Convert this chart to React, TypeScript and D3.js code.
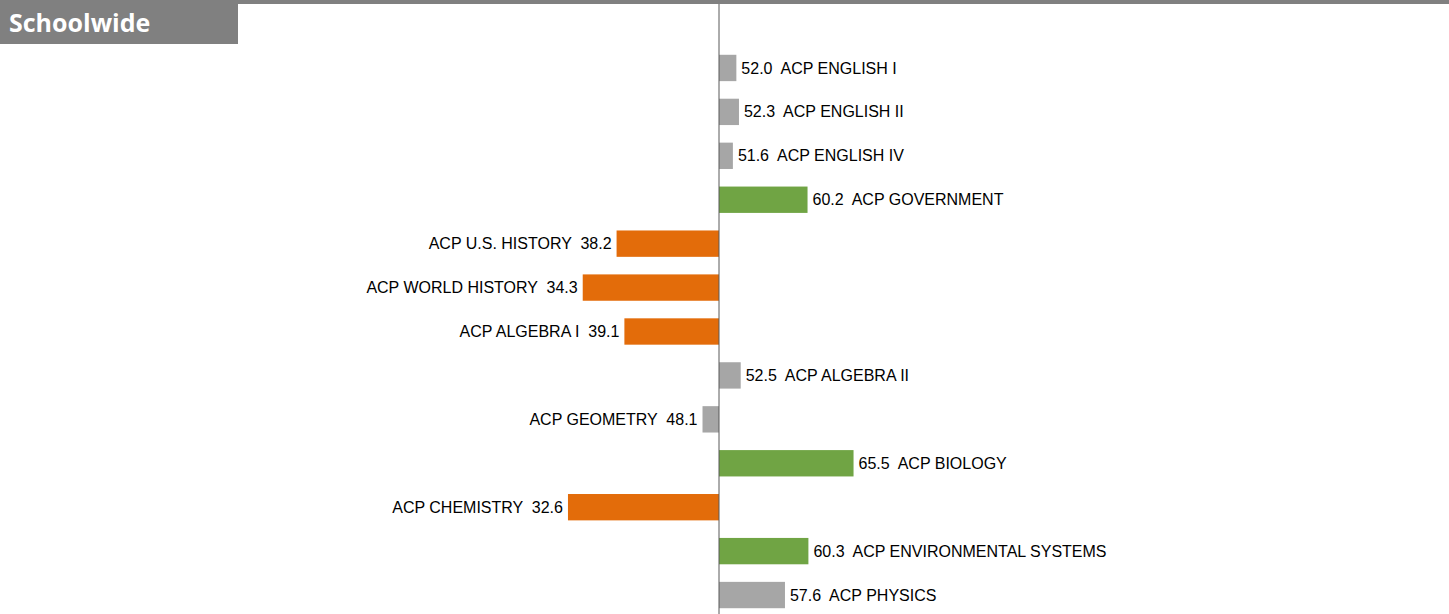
import React, { useEffect, useRef } from 'react';
import * as d3 from 'd3';

const courses = [
  'ACP ENGLISH I', 'ACP ENGLISH II', 'ACP ENGLISH IV', 'ACP GOVERNMENT',
  'ACP U.S. HISTORY', 'ACP WORLD HISTORY', 'ACP ALGEBRA I', 'ACP ALGEBRA II',
  'ACP GEOMETRY', 'ACP BIOLOGY', 'ACP CHEMISTRY', 'ACP ENVIRONMENTAL SYSTEMS', 'ACP PHYSICS',
];
const scores = [52.0, 52.3, 51.6, 60.2, 38.2, 34.3, 39.1, 52.5, 48.1, 65.5, 32.6, 60.3, 57.6];
const baseline = 50;

const colorFor = (v: number) => (v >= 60 ? '#70a444' : v < 40 ? '#e36c0a' : '#a6a6a6');

const App = () => {
  const svgRef = useRef<SVGSVGElement>(null);

  useEffect(() => {
    document.body.style.margin = '0';
    const svg = d3.select(svgRef.current);
    svg.selectAll('*').remove();

    const width = 1449;
    const height = 614;

    const x = d3.scaleLinear().domain([0, 100]).range([285, 1153]);
    const y = d3.scaleBand<string>().domain(courses).range([46, 617]).paddingInner(0.4).paddingOuter(0.2);

    // header strip + title box
    svg.append('rect').attr('x', 0).attr('y', 0).attr('width', width).attr('height', 4).attr('fill', '#808080');
    svg.append('rect').attr('x', 0).attr('y', 0).attr('width', 238).attr('height', 44).attr('fill', '#808080');
    svg.append('text')
      .attr('x', 9).attr('y', 32)
      .attr('fill', '#fff')
      .attr('font-family', '"Open Sans", sans-serif')
      .attr('font-weight', 'bold')
      .attr('font-size', 25)
      .text('Schoolwide');

    const rows = courses.map((c, i) => ({ course: c, value: scores[i] }));

    svg.append('g').selectAll('rect')
      .data(rows)
      .join('rect')
      .attr('x', d => Math.min(x(d.value), x(baseline)))
      .attr('y', d => y(d.course)!)
      .attr('width', d => Math.abs(x(d.value) - x(baseline)))
      .attr('height', y.bandwidth())
      .attr('fill', d => colorFor(d.value));

    svg.append('g').selectAll('text')
      .data(rows)
      .join('text')
      .attr('x', d => (d.value >= baseline ? x(d.value) + 5 : x(d.value) - 5))
      .attr('y', d => y(d.course)! + y.bandwidth() / 2)
      .attr('dy', '0.35em')
      .attr('text-anchor', d => (d.value >= baseline ? 'start' : 'end'))
      .attr('font-family', '"Liberation Sans", Arial, sans-serif')
      .attr('font-size', 16)
      .attr('fill', '#000')
      .style('white-space', 'pre')
      .text(d => (d.value >= baseline
        ? `${d.value.toFixed(1)}  ${d.course}`
        : `${d.course}  ${d.value.toFixed(1)}`));

    svg.append('line')
      .attr('x1', x(baseline)).attr('x2', x(baseline))
      .attr('y1', 4).attr('y2', height)
      .attr('stroke', '#595959').attr('stroke-width', 1);
  }, []);

  return <svg ref={svgRef} width={1449} height={614} style={{ display: 'block' }} />;
};

export default App;
